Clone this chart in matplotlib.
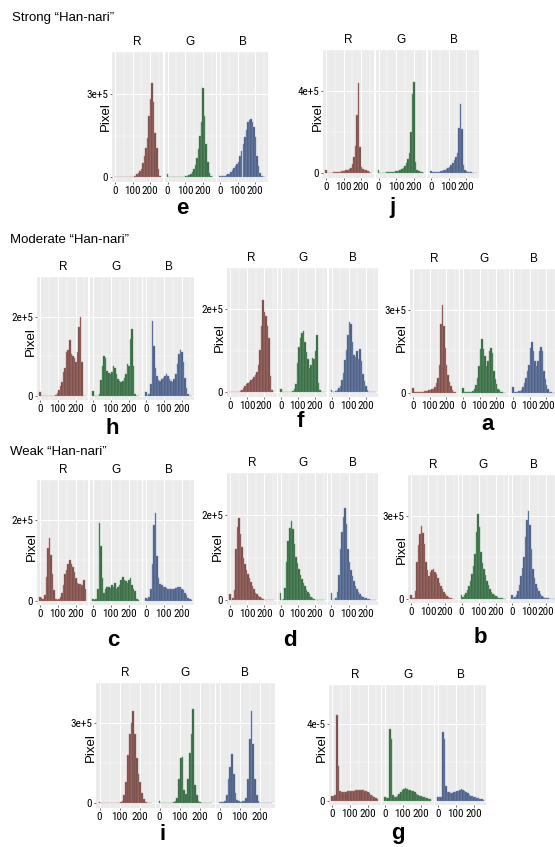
import numpy as np
import matplotlib
matplotlib.use("Agg")
import matplotlib.pyplot as plt
from matplotlib import font_manager as fm

W, H = 555, 847

# ---------------- fonts ----------------
entries = fm.fontManager.ttflist
names = {f.name for f in entries}
TICK_FP = None
for cand in ["Liberation Sans Narrow", "Roboto Condensed", "Open Sans Condensed", "Noto Sans Condensed",
             "DejaVu Sans Condensed"]:
    if cand in names:
        TICK_FP = fm.FontProperties(family=cand)
        break
if TICK_FP is None:
    cond = [f for f in entries if f.name == "DejaVu Sans" and str(f.stretch) in ("condensed", "semi-condensed")
            and f.style == "normal" and f.weight in (400, "normal", "regular", "book")]
    if cond:
        TICK_FP = fm.FontProperties(fname=cond[0].fname)
if TICK_FP is None:
    TICK_FP = fm.FontProperties(family="Liberation Sans")
    TICK_SIZE = 7
else:
    TICK_SIZE = 8
plt.rcParams["font.family"] = ["Liberation Sans", "DejaVu Sans"]

# ---------------- data (histogram counts per bin, 30 bins over 0..255) ----------------
channels = ["R", "G", "B"]
bin_centers = np.linspace(0, 255, 30)
bin_width = 255 / 29

# counts in units of 1e5 pixels (panel g: units of 1e-5)
e_R = [0.01, 0.005, 0.005, 0.005, 0.005, 0.005, 0.005, 0.01, 0.01, 0.01, 0.015, 0.02,
       0.02, 0.05, 0.1, 0.15, 0.22, 0.3, 0.5, 0.75, 1.05, 1.4, 2.2, 2.8, 3.39, 2.7, 1.6, 1.05, 0.3, 0.05]
e_G = [0.12, 0.02, 0.01, 0.01, 0.01, 0.01, 0.015, 0.015, 0.02, 0.02, 0.02, 0.025, 0.04, 0.05, 0.08,
       0.12, 0.2, 0.3, 0.45, 0.7, 1.0, 1.5, 2.0, 3.2, 2.2, 1.2, 0.55, 0.15, 0.05, 0.01]
e_B = [0.05, 0.03, 0.04, 0.05, 0.07, 0.1, 0.12, 0.18, 0.26, 0.32, 0.4, 0.48, 0.55, 0.75, 0.95,
       1.2, 1.45, 1.7, 2.0, 2.05, 2.1, 2.0, 1.8, 1.45, 0.75, 0.4, 0.17, 0.05, 0.02, 0.01]

j_R = [0.15, 0.03, 0.03, 0.04, 0.04, 0.05, 0.06, 0.07, 0.08, 0.09, 0.1, 0.12, 0.14, 0.16, 0.18,
       0.22, 0.28, 0.45, 0.8, 1.33, 2.86, 4.38, 1.3, 0.3, 0.2, 0.18, 0.15, 0.12, 0.08, 0.04]
j_G = [0.15, 0.03, 0.03, 0.04, 0.04, 0.05, 0.05, 0.06, 0.07, 0.08, 0.09, 0.1, 0.12, 0.14, 0.18,
       0.22, 0.28, 0.38, 0.5, 0.7, 1.0, 2.03, 3.87, 4.45, 0.55, 0.15, 0.1, 0.08, 0.05, 0.02]
j_B = [0.1, 0.05, 0.05, 0.06, 0.07, 0.09, 0.11, 0.13, 0.15, 0.18, 0.22, 0.27, 0.32, 0.4, 0.5,
       0.63, 0.8, 1.0, 2.2, 3.37, 2.15, 0.4, 0.15, 0.1, 0.08, 0.06, 0.05, 0.04, 0.03, 0.02]

h_R = [0.09, 0, 0, 0, 0, 0, 0, 0, 0, 0.01, 0.03, 0.08, 0.15, 0.25, 0.35,
       0.6, 0.7, 1.1, 1.15, 1.4, 1.05, 1.0, 0.95, 0.85, 1.1, 1.75, 2.0, 0.85, 0, 0]
h_G = [0.12, 0, 0, 0, 0.05, 0.4, 0.75, 1.01, 0.95, 0.63, 0.57, 0.55, 0.6, 0.75, 0.7,
       0.55, 0.42, 0.38, 0.35, 0.38, 0.45, 0.55, 0.8, 0.75, 1.45, 1.7, 0.75, 0.05, 0, 0]
h_B = [0.09, 0, 0.05, 0.3, 1.88, 1.25, 0.7, 0.5, 0.4, 0.38, 0.42, 0.45, 0.5, 0.55, 0.5,
       0.42, 0.38, 0.35, 0.42, 0.55, 0.8, 1.05, 1.15, 1.1, 0.85, 0.45, 0.2, 0.05, 0, 0]

f_R = [0.01, 0.01, 0.01, 0.01, 0.01, 0.01, 0.02, 0.04, 0.06, 0.1, 0.16, 0.2, 0.22, 0.25, 0.3,
       0.33, 0.38, 0.42, 0.5, 0.66, 1.03, 1.6, 2.22, 1.94, 1.84, 1.6, 1.3, 0.4, 0.05, 0]
f_G = [0.09, 0.01, 0.01, 0.01, 0.01, 0.01, 0.01, 0.02, 0.04, 0.08, 0.2, 0.72, 1.1, 1.3, 1.44,
       1.47, 1.22, 0.97, 0.8, 0.6, 0.65, 0.84, 0.8, 1.0, 1.38, 0.22, 0.05, 0.01, 0, 0]
f_B = [0.06, 0.01, 0.02, 0.03, 0.05, 0.1, 0.16, 0.3, 0.47, 0.78, 1.03, 1.38, 1.69, 1.66, 1.22,
       0.9, 0.85, 1.0, 0.8, 1.05, 0.75, 0.45, 0.28, 0.15, 0.05, 0.02, 0.01, 0, 0, 0]

a_R = [0.18, 0.02, 0.02, 0.02, 0.03, 0.03, 0.04, 0.04, 0.05, 0.06, 0.07, 0.08, 0.09, 0.12, 0.15,
       0.2, 0.36, 0.55, 1.0, 2.5, 3.18, 2.42, 1.61, 1.0, 0.63, 0.4, 0.25, 0.1, 0.04, 0.01]
a_G = [0.18, 0.01, 0.01, 0.01, 0.01, 0.01, 0.02, 0.05, 0.12, 0.27, 0.54, 0.98, 1.6, 1.97, 1.6,
       1.34, 0.98, 1.16, 1.5, 1.61, 1.43, 0.8, 0.5, 0.3, 0.15, 0.08, 0.03, 0.01, 0, 0]
a_B = [0.22, 0.03, 0.03, 0.04, 0.05, 0.07, 0.1, 0.2, 0.36, 0.54, 0.8, 1.0, 1.61, 1.83, 1.5,
       1.16, 0.98, 1.16, 1.5, 1.66, 1.52, 0.8, 0.5, 0.27, 0.12, 0.04, 0.01, 0, 0, 0]

c_R = [0.1, 0.06, 0.05, 0.13, 0.58, 1.32, 1.55, 1.13, 0.65, 0.26, 0.05, 0.02, 0.04, 0.1, 0.19,
       0.39, 0.65, 0.77, 0.9, 1.0, 0.9, 0.84, 0.71, 0.55, 0.45, 0.42, 0.42, 0.39, 0.5, 0.3]
c_G = [0.05, 0.02, 0.05, 0.3, 1.94, 1.35, 0.55, 0.2, 0.3, 0.33, 0.35, 0.32, 0.38, 0.35, 0.45,
       0.3, 0.35, 0.4, 0.5, 0.58, 0.52, 0.48, 0.45, 0.5, 0.55, 0.4, 0.3, 0.25, 0.05, 0.02]
c_B = [0.06, 0.05, 0.08, 0.3, 0.9, 1.87, 2.19, 1.1, 0.55, 0.42, 0.39, 0.35, 0.33, 0.32, 0.3,
       0.3, 0.3, 0.29, 0.3, 0.32, 0.33, 0.35, 0.34, 0.3, 0.26, 0.2, 0.13, 0.06, 0.03, 0.01]

d_R = [0.15, 0.02, 0.05, 0.25, 1.2, 1.73, 1.94, 1.56, 1.25, 1.0, 0.85, 0.72, 0.62, 0.52, 0.44,
       0.33, 0.26, 0.18, 0.14, 0.1, 0.07, 0.05, 0.03, 0.02, 0.01, 0.01, 0, 0, 0, 0]
d_G = [0.18, 0.01, 0.03, 0.3, 0.9, 1.4, 1.7, 1.88, 1.68, 1.32, 1.03, 0.88, 0.74, 0.6, 0.5,
       0.4, 0.33, 0.25, 0.2, 0.14, 0.09, 0.06, 0.04, 0.02, 0.01, 0, 0, 0, 0, 0]
d_B = [0.18, 0.01, 0.01, 0.05, 0.2, 0.6, 1.2, 1.6, 1.97, 2.18, 1.79, 1.2, 0.91, 0.72, 0.58,
       0.45, 0.35, 0.26, 0.2, 0.14, 0.1, 0.08, 0.06, 0.05, 0.04, 0.03, 0.02, 0.01, 0, 0]

b_R = [0.13, 0.02, 0.04, 0.27, 1.34, 1.97, 2.37, 2.64, 2.4, 2.0, 1.34, 1.03, 0.81, 0.98, 1.05,
       1.07, 0.98, 0.9, 0.75, 0.58, 0.45, 0.36, 0.25, 0.18, 0.1, 0.05, 0.02, 0.01, 0, 0]
b_G = [0.13, 0.05, 0.12, 0.2, 0.3, 0.45, 0.65, 0.9, 1.2, 1.61, 2.42, 3.09, 2.6, 1.7, 1.3,
       1.07, 0.85, 0.63, 0.48, 0.35, 0.25, 0.18, 0.12, 0.09, 0.05, 0.03, 0.02, 0.01, 0, 0]
b_B = [0.13, 0.03, 0.06, 0.12, 0.27, 0.5, 0.81, 1.1, 1.5, 2.24, 2.87, 3.18, 2.69, 1.79, 1.07,
       0.75, 0.54, 0.38, 0.27, 0.17, 0.09, 0.06, 0.04, 0.02, 0.01, 0, 0, 0, 0, 0]

i_R = [0.05, 0.005, 0.005, 0.005, 0.005, 0.005, 0.005, 0.005, 0.005, 0.01, 0.01, 0.02, 0.03, 0.08, 0.3,
       0.8, 1.8, 2.6, 3.0, 3.45, 2.6, 1.7, 1.1, 0.8, 0.4, 0.15, 0.05, 0.02, 0, 0]
i_G = [0.08, 0.005, 0.005, 0.005, 0.005, 0.005, 0.01, 0.02, 0.03, 0.08, 0.2, 0.9, 1.7, 1.75, 0.5,
       0.35, 0.9, 1.9, 2.6, 3.52, 0.7, 0.3, 0.1, 0.05, 0.02, 0, 0, 0, 0, 0]
i_B = [0.05, 0.05, 0.06, 0.08, 0.3, 0.9, 1.35, 1.85, 1.1, 0.4, 0.12, 0.08, 0.06, 0.07, 0.1,
       0.2, 0.9, 2.4, 3.45, 2.2, 0.9, 0.3, 0.08, 0.02, 0, 0, 0, 0, 0, 0]

g_R = [0.25, 0.25, 0.3, 4.43, 1.8, 0.5, 0.45, 0.43, 0.43, 0.45, 0.5, 0.5, 0.52, 0.5, 0.53,
       0.55, 0.56, 0.55, 0.56, 0.56, 0.55, 0.53, 0.5, 0.45, 0.38, 0.3, 0.23, 0.18, 0.13, 0.08]
g_G = [0.2, 0.15, 0.12, 3.74, 3.22, 0.3, 0.2, 0.17, 0.25, 0.36, 0.45, 0.56, 0.62, 0.65, 0.62,
       0.58, 0.56, 0.53, 0.5, 0.45, 0.36, 0.3, 0.26, 0.22, 0.2, 0.17, 0.15, 0.12, 0.1, 0.08]
g_B = [0.2, 0.18, 0.2, 3.55, 3.22, 0.75, 0.45, 0.43, 0.42, 0.42, 0.43, 0.45, 0.5, 0.52, 0.58,
       0.62, 0.58, 0.52, 0.45, 0.38, 0.32, 0.27, 0.23, 0.2, 0.17, 0.14, 0.12, 0.1, 0.08, 0.06]

panel_data = {
    "e": (e_R, e_G, e_B), "j": (j_R, j_G, j_B),
    "h": (h_R, h_G, h_B), "f": (f_R, f_G, f_B), "a": (a_R, a_G, a_B),
    "c": (c_R, c_G, c_B), "d": (d_R, d_G, d_B), "b": (b_R, b_G, b_B),
    "i": (i_R, i_G, i_B), "g": (g_R, g_G, g_B),
}
ytick_value = {"e": 3, "j": 4, "h": 2, "f": 2, "a": 3, "c": 2, "d": 2, "b": 3, "i": 3, "g": 4}
ytick_label = {"e": "3e+5", "j": "4e+5", "h": "2e+5", "f": "2e+5", "a": "3e+5",
               "c": "2e+5", "d": "2e+5", "b": "3e+5", "i": "3e+5", "g": "4e-5"}
x_ticks = [0, 100, 200]
x_tick_labels = ["0", "100", "200"]
group_titles = ["Strong \u201cHan-nari\u201d", "Moderate \u201cHan-nari\u201d", "Weak \u201cHan-nari\u201d"]

# ---------------- layout (pixel positions) ----------------
layout = {
    "e": dict(left=112, fw=51, gap=1.5, top=52, bottom=182, letter=(182, 208), ylab=(106, 117)),
    "j": dict(left=323, fw=51, gap=1.5, top=50, bottom=178, letter=(392, 208), ylab=(318, 117)),
    "h": dict(left=37, fw=51.5, gap=1.5, top=277, bottom=400, letter=(112, 428), ylab=(31, 342)),
    "f": dict(left=227, fw=49.5, gap=1.3, top=268, bottom=397, letter=(300, 421), ylab=(220, 338)),
    "a": dict(left=410, fw=48.5, gap=1.5, top=269, bottom=397, letter=(488, 424), ylab=(402, 338)),
    "c": dict(left=37, fw=51.5, gap=1.5, top=480, bottom=605, letter=(113, 640), ylab=(32, 547)),
    "d": dict(left=227, fw=49.7, gap=1.0, top=473, bottom=605, letter=(290, 640), ylab=(218, 547)),
    "b": dict(left=408, fw=49.5, gap=1.0, top=475, bottom=603, letter=(480, 637), ylab=(402, 550)),
    "i": dict(left=96, fw=58.5, gap=1.5, top=683, bottom=808, letter=(163, 834), ylab=(91, 748)),
    "g": dict(left=329, fw=51.5, gap=1.5, top=685, bottom=805, letter=(398, 833), ylab=(322, 748)),
}
title_pos = [(12, 18), (10, 240), (10, 452)]

fills = {"R": "#6A4B49", "G": "#3C5E45", "B": "#4B5773"}
edges = {"R": "#C0766F", "G": "#55A466", "B": "#7691C8"}

fig = plt.figure(figsize=(W / 100, H / 100), dpi=100)


def rect(x0, x1, ytop, ybot):
    return [x0 / W, 1 - ybot / H, (x1 - x0) / W, (ybot - ytop) / H]


for key, series in panel_data.items():
    L = layout[key]
    M = max(max(s) for s in series)
    yt = ytick_value[key]
    for k, (ch, vals) in enumerate(zip(channels, series)):
        x0 = L["left"] + k * (L["fw"] + L["gap"])
        ax = fig.add_axes(rect(x0, x0 + L["fw"], L["top"], L["bottom"]))
        ax.set_facecolor("#EBEBEB")
        ax.set_axisbelow(True)
        ax.bar(bin_centers, vals, width=bin_width, color=fills[ch],
               edgecolor=edges[ch], linewidth=0.3, zorder=3)
        ax.set_xlim(-17.6, 272.6)
        ax.set_ylim(-0.05 * M, 1.05 * M)
        ax.set_xticks(x_ticks)
        ax.set_xticklabels(x_tick_labels, fontproperties=TICK_FP, fontsize=TICK_SIZE)
        ax.set_xticks([50, 150, 250], minor=True)
        ax.set_yticks([0, yt])
        ax.set_yticklabels(["0", ytick_label[key]], fontproperties=TICK_FP, fontsize=TICK_SIZE)
        ax.set_yticks([yt / 2, yt * 1.5], minor=True)
        ax.grid(which="major", color="white", linewidth=0.7)
        ax.grid(which="minor", color="white", linewidth=0.35)
        for sp in ax.spines.values():
            sp.set_visible(False)
        ax.tick_params(which="major", length=1.5, width=0.5, color="#333333",
                       pad=1.2, labelcolor="black")
        ax.tick_params(which="minor", length=0)
        if k > 0:
            ax.tick_params(axis="y", which="both", left=False, labelleft=False)
        fig.text((x0 + L["fw"] / 2) / W, 1 - (L["top"] - 10) / H, ch,
                 ha="center", va="center", fontsize=8.5)
    fig.text(L["letter"][0] / W, 1 - L["letter"][1] / H, key, ha="center", va="center",
             fontsize=16, fontweight="bold")
    fig.text(L["ylab"][0] / W, 1 - L["ylab"][1] / H, "Pixel", rotation=90,
             ha="center", va="center", fontsize=9.5)

for t, (tx, ty) in zip(group_titles, title_pos):
    fig.text(tx / W, 1 - ty / H, t, ha="left", va="center", fontsize=9.5)

fig.savefig("out.png", dpi=100)
